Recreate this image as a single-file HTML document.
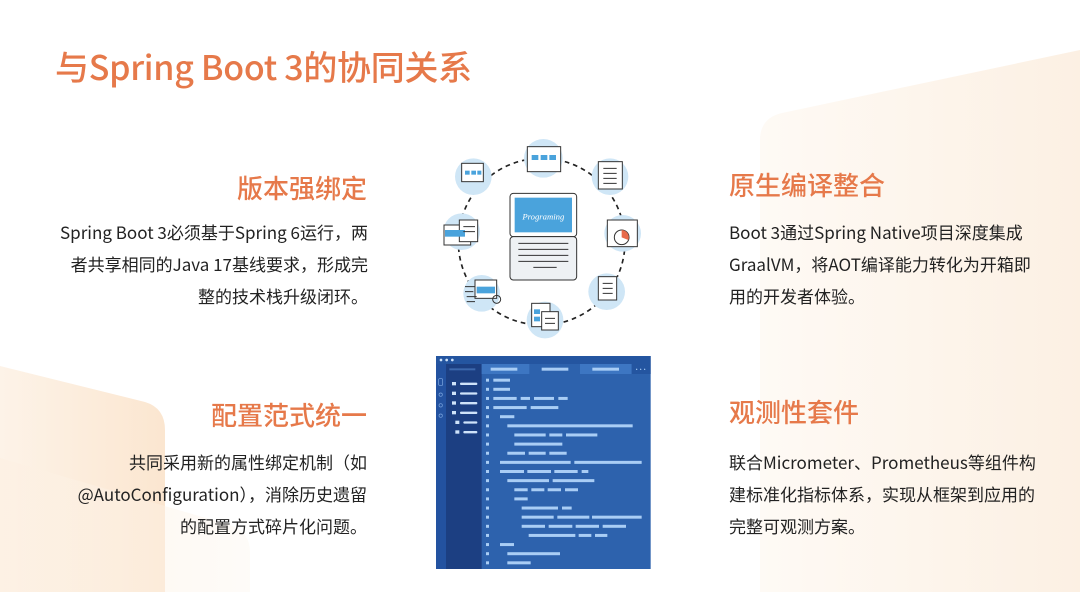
<!DOCTYPE html>
<html><head><meta charset="utf-8"><style>
html,body{margin:0;padding:0;width:1080px;height:592px;overflow:hidden}
body{position:relative;background:#fff;font-family:"Liberation Sans","Noto Sans CJK SC",sans-serif;}
h1{position:absolute;left:55px;top:41px;margin:0;font-size:34px;font-weight:500;color:#e6794a;font-family:"Noto Sans CJK SC",sans-serif;letter-spacing:-0.3px}
.h{position:absolute;font-size:26px;font-weight:500;color:#e6794a;font-family:"Noto Sans CJK SC",sans-serif;margin:0;line-height:36px}
.p{position:absolute;font-size:17px;color:#222;line-height:32px;font-family:"Noto Sans CJK SC",sans-serif;white-space:nowrap}
.r{text-align:right}
</style></head><body>
<svg style="position:absolute;left:0;top:0" width="1080" height="592" viewBox="0 0 1080 592">
<defs>
<linearGradient id="g1" x1="0" x2="1" y1="0" y2="0"><stop offset="0" stop-color="#fdf3e8"/><stop offset="1" stop-color="#fbe6d0"/></linearGradient>
<linearGradient id="g2" x1="0" x2="1" y1="0" y2="0"><stop offset="0" stop-color="#fdf0e2" stop-opacity="0.7"/><stop offset="1" stop-color="#fdf3e8" stop-opacity="0.3"/></linearGradient>
<linearGradient id="g3" x1="0" x2="1" y1="0" y2="0"><stop offset="0" stop-color="#fefaf5"/><stop offset="1" stop-color="#fcf0e3"/></linearGradient>
</defs>
<path d="M0 366 L145 402 Q165 408 165 430 L165 592 L0 592Z" fill="url(#g1)"/>
<path d="M0 458 L230 525 Q250 532 250 552 L250 592 L0 592Z" fill="url(#g2)"/>
<path d="M760 140 Q760 118 782 113 L1080 50 L1080 592 L760 592Z" fill="url(#g3)"/>
</svg>

<h1>与Spring Boot 3的协同关系</h1>

<div class="h" style="right:713px;top:170px">版本强绑定</div>
<div class="p r" style="right:712px;top:216px">Spring Boot 3必须基于Spring 6运行，两<br>者共享相同的Java 17基线要求，形成完<br>整的技术栈升级闭环。</div>

<div class="h" style="right:713px;top:397px">配置范式统一</div>
<div class="p r" style="right:713px;top:446px">共同采用新的属性绑定机制（如<br>@AutoConfiguration），消除历史遗留<br>的配置方式碎片化问题。</div>

<div class="h" style="left:729px;top:167px">原生编译整合</div>
<div class="p" style="left:729px;top:216px">Boot 3通过Spring Native项目深度集成<br>GraalVM，将AOT编译能力转化为开箱即<br>用的开发者体验。</div>

<div class="h" style="left:729px;top:394px">观测性套件</div>
<div class="p" style="left:729px;top:446px">联合Micrometer、Prometheus等组件构<br>建标准化指标体系，实现从框架到应用的<br>完整可观测方案。</div>

<svg style="position:absolute;left:430px;top:130px" width="230" height="210" viewBox="0 0 690 630">
<circle cx="335" cy="335" r="250" fill="none" stroke="#222" stroke-width="5" stroke-dasharray="14 12"/>
<g fill="#cfe6f6">
<circle cx="340" cy="85" r="58"/><circle cx="540" cy="140" r="55"/><circle cx="578" cy="310" r="55"/>
<circle cx="530" cy="485" r="55"/><circle cx="345" cy="570" r="55"/><circle cx="155" cy="490" r="55"/>
<circle cx="95" cy="305" r="55"/><circle cx="130" cy="140" r="55"/>
</g>
<g fill="#fff" stroke="#333" stroke-width="3">
<rect x="292" y="50" width="100" height="75"/><rect x="505" y="95" width="72" height="82"/>
<rect x="532" y="270" width="90" height="80"/><rect x="505" y="440" width="55" height="70"/>
<rect x="305" y="520" width="55" height="70"/><rect x="335" y="545" width="50" height="55"/>
<rect x="135" y="450" width="65" height="55"/><rect x="42" y="285" width="80" height="60"/>
<rect x="88" y="270" width="55" height="65"/><rect x="95" y="100" width="65" height="55"/>
<rect x="240" y="190" width="200" height="130" rx="10"/><rect x="240" y="320" width="200" height="130" rx="10" fill="#eef1f4"/>
</g>
<g fill="#4aa3dc"><rect x="305" y="75" width="20" height="15"/><rect x="332" y="75" width="20" height="15"/><rect x="358" y="75" width="20" height="15"/>
<rect x="105" y="122" width="14" height="12"/><rect x="124" y="122" width="14" height="12"/><rect x="142" y="122" width="12" height="12"/>
<rect x="140" y="470" width="55" height="20"/><rect x="45" y="300" width="60" height="20"/>
<rect x="254" y="203" width="172" height="104"/>
<rect x="312" y="538" width="18" height="14"/><rect x="312" y="560" width="18" height="14"/></g>
<text x="340" y="268" font-family="Liberation Serif,serif" font-style="italic" font-size="26" fill="#fff" text-anchor="middle">Programing</text>
<g fill="none" stroke="#333" stroke-width="3">
<path d="M265 340h150M265 358h150M265 376h150M265 394h150M310 412h70"/>
<path d="M520 115h40M520 130h40M520 145h40M520 160h40M518 460h30M518 475h30M518 490h30M345 565h30M345 580h30M100 290h35M100 305h35"/>
<path d="M105 470h30M105 485h25M110 500h30M110 515h25"/>
<circle cx="575" cy="322" r="22" fill="#fff"/><circle cx="200" cy="508" r="12"/>
</g>
<path d="M575 322 L575 300 A22 22 0 0 1 595 330Z" fill="#e86a4a"/>
</svg>

<svg style="position:absolute;left:430px;top:350px" width="230" height="225" viewBox="0 0 690 675">
<rect x="18" y="18" width="644" height="639" fill="#2d62ad"/>
<rect x="18" y="18" width="644" height="24" fill="#2455a0"/>
<g fill="#cfe3fa"><circle cx="33" cy="30" r="4"/><circle cx="50" cy="30" r="4"/><circle cx="67" cy="30" r="4"/></g>
<rect x="18" y="42" width="30" height="615" fill="#2352a0"/>
<rect x="48" y="42" width="107" height="615" fill="#1c3f82"/>
<rect x="155" y="42" width="143" height="30" fill="#3d76c2"/>
<rect x="450" y="42" width="155" height="30" fill="#3d76c2"/>
<rect x="605" y="42" width="57" height="30" fill="#2455a0"/>
<g fill="#a9cdf5">
<rect x="58" y="55" width="78" height="6" fill="#3c68ad"/>
<rect x="182" y="53" width="80" height="9"/><rect x="335" y="53" width="80" height="9"/><rect x="487" y="53" width="80" height="9"/>
<circle cx="620" cy="58" r="2"/><circle cx="632" cy="58" r="2"/><circle cx="644" cy="58" r="2"/>
</g>
<g fill="#cfe3fa">
<rect x="90" y="98" width="52" height="7" rx="3"/><rect x="90" y="127" width="52" height="7" rx="3"/><rect x="90" y="156" width="52" height="7" rx="3"/><rect x="90" y="185" width="52" height="7" rx="3"/><rect x="100" y="214" width="42" height="7" rx="3"/><rect x="100" y="243" width="42" height="7" rx="3"/>
<rect x="66" y="96" width="12" height="10"/><rect x="66" y="125" width="12" height="10"/><rect x="66" y="154" width="12" height="10"/><rect x="66" y="183" width="12" height="10"/><rect x="76" y="212" width="12" height="10"/><rect x="76" y="241" width="12" height="10"/>
</g>
<g fill="none" stroke="#7fa8e0" stroke-width="2"><rect x="26" y="86" width="12" height="20" rx="3"/><circle cx="32" cy="134" r="5"/><circle cx="32" cy="166" r="5"/><circle cx="32" cy="197" r="5"/></g>
<g fill="#a9cdf5" id="code"></g>
</svg>
<script>
var rows=[[[190,240]],[[190,240]],[[190,260],[272,300],[312,372],[385,413]],[[190,290],[302,385]],[[210,253]],[[232,608]],[[253,347],[358,397],[408,502]],[[253,397]],[[232,285],[296,347],[358,410]],[[210,422],[433,635]],[[210,282],[292,363],[373,443],[455,475]],[[232,357],[368,493]],[[253,293],[304,343],[353,393],[405,444]],[[253,293]],[[275,384],[396,425]],[[275,371],[382,478],[486,635]],[[275,345],[356,427],[437,507],[518,588]],[[296,436],[446,484],[495,532]],[[210,252]],[[232,390]],[[232,302]]];
var g=document.getElementById('code'),s='';
rows.forEach(function(r,i){var y=90+i*27.4;s+='<rect x="168" y="'+(y-4)+'" width="9" height="9"/>';r.forEach(function(q){s+='<rect x="'+q[0]+'" y="'+(y-4)+'" width="'+(q[1]-q[0])+'" height="9"/>';});});
g.innerHTML=s;
</script>
</body></html>
